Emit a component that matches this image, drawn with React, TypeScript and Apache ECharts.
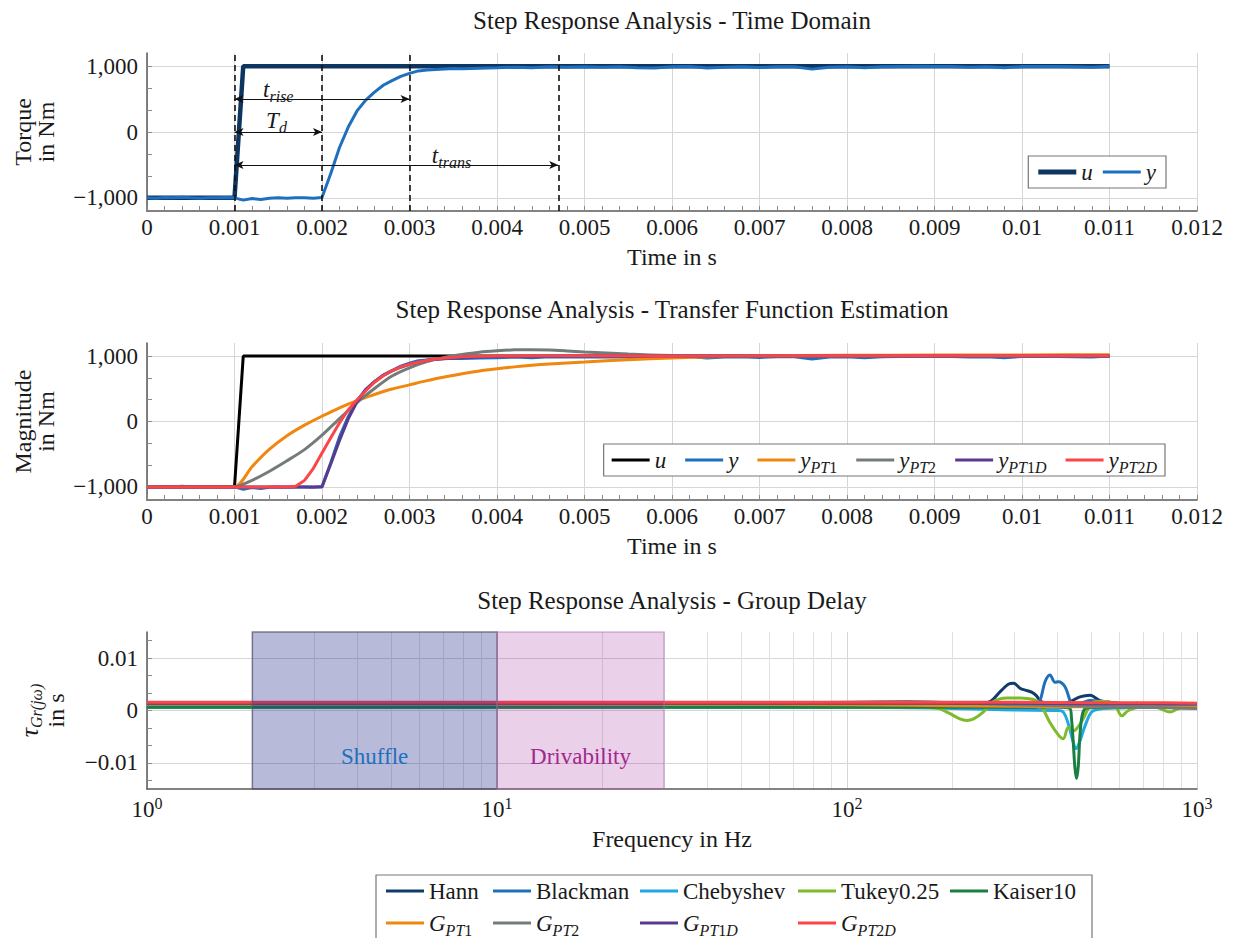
import React, { useEffect, useRef } from "react";
import * as echarts from "echarts";

const FONT = '"Liberation Serif", "DejaVu Serif", "Times New Roman", serif';
const TEXT = "#1a1a1a";

// ---------------- Time-domain data (charts 1 and 2) ----------------
const uTime = [0, 0.001, 0.0011, 0.011];
const uValues = [-1000, -1000, 1000, 1000];

const yTime = [
  0, 0.0001, 0.0002, 0.0003, 0.0004, 0.0005, 0.0006, 0.0007, 0.0008, 0.0009, 0.001,
  0.0011, 0.0012, 0.0013, 0.0014, 0.0015, 0.0016, 0.0017, 0.0018, 0.0019, 0.002,
  0.0021, 0.0022, 0.0023, 0.0024, 0.0025, 0.0026, 0.0027, 0.0028, 0.0029, 0.003,
  0.0031, 0.0032, 0.0033, 0.0034, 0.0035, 0.0036,
  0.0038, 0.004, 0.0042, 0.0044, 0.0046, 0.0048, 0.005, 0.0052, 0.0054, 0.0056,
  0.0058, 0.006, 0.0062, 0.0064, 0.0066, 0.0068, 0.007, 0.0072, 0.0074, 0.0076,
  0.0078, 0.008, 0.0082, 0.0084, 0.0086, 0.0088, 0.009, 0.0092, 0.0094, 0.0096,
  0.0098, 0.01, 0.0102, 0.0104, 0.0106, 0.0108, 0.011,
];
const yValues = [
  -1000, -1005, -995, -1000, -990, -1000, -1005, -1000, -1000, -995, -1000,
  -1035, -1010, -1025, -1005, -1000, -1005, -1000, -1000, -1005, -995,
  -630, -235, 75, 320, 485, 605, 710, 780, 845, 890,
  928, 940, 950, 958, 965, 962,
  970, 975, 985, 975, 990, 985, 990, 985, 990, 975,
  972, 990, 995, 972, 985, 990, 980, 990, 990, 955,
  985, 990, 975, 990, 995, 1000, 995, 995, 985, 990,
  975, 995, 995, 995, 990, 985, 1000,
];

const ptTime = [
  0, 0.001, 0.0012, 0.0014, 0.0016, 0.0018, 0.002, 0.0022, 0.0024, 0.0026, 0.0028,
  0.003, 0.0032, 0.0034, 0.0036, 0.0038, 0.004, 0.0042, 0.0044, 0.0046, 0.0048,
  0.005, 0.0055, 0.006, 0.0065, 0.007, 0.008, 0.009, 0.01, 0.011,
];
const yPT1Values = [
  -1000, -1000, -691, -424, -218, -56, 81, 210, 320, 412, 496,
  560, 625, 680, 730, 772, 805, 835, 860, 880, 895,
  908, 945, 972, 990, 1002, 1012, 1016, 1018, 1020,
];
const yPT2Values = [
  -1000, -1000, -900, -760, -600, -430, -210, 45, 290, 505, 695,
  820, 915, 980, 1025, 1060, 1080, 1095, 1098, 1092, 1078,
  1062, 1030, 1008, 995, 993, 998, 1000, 1000, 1000,
];
const pt1dTime = [
  0, 0.002, 0.0021, 0.0022, 0.0023, 0.0024, 0.0025, 0.0026, 0.0027, 0.0028, 0.0029,
  0.003, 0.0032, 0.0034, 0.0036, 0.0038, 0.004, 0.0045, 0.005, 0.011,
];
const yPT1DValues = [
  -1000, -1000, -650, -290, 40, 300, 490, 610, 705, 775, 830,
  875, 935, 963, 978, 988, 993, 998, 1000, 1000,
];
const pt2dTime = [
  0, 0.0016, 0.0017, 0.0018, 0.0019, 0.002, 0.0021, 0.0022, 0.0023, 0.0024, 0.0025,
  0.0026, 0.0027, 0.0028, 0.0029, 0.003, 0.0032, 0.0034, 0.0036, 0.0038, 0.004,
  0.0045, 0.005, 0.006, 0.011,
];
const yPT2DValues = [
  -1000, -1000, -990, -900, -720, -480, -250, -20, 180, 330, 470,
  600, 700, 775, 835, 875, 935, 970, 988, 997, 1002,
  1005, 1005, 1003, 1005,
];

const torqueRange = [-1200, 1200];
const torqueTickLabels = [-1000, 0, 1000];
const torqueMinorTicks = [-2000 / 3, -1000 / 3, 1000 / 3, 2000 / 3];

// annotations of chart 1
const markerTimes = [0.001, 0.002, 0.003, 0.0047];
const arrowStarts = [0.001, 0.001, 0.001];
const arrowEnds = [0.003, 0.002, 0.0047];
const arrowLevels = [500, 0, -500];
const annotationTexts = ["{i|t}{s|rise}", "{i|T}{s|d}", "{i|t}{s|trans}"];
const annotationTimes = [0.0015, 0.00148, 0.00348];
const annotationLevels = [650, 170, -355];

// ---------------- Group delay data (chart 3) ----------------
const hannFreq = [1, 50, 150, 200, 230, 256, 274, 289, 299, 313, 323, 337, 348, 358, 372, 400, 430, 463, 495, 528, 577, 630, 675, 720, 800, 900, 1000];
const hannDelay = [0.0007, 0.0007, 0.0008, 0.0009, 0.001, 0.0017, 0.0036, 0.005, 0.0052, 0.0042, 0.0039, 0.0035, 0.0028, 0.0017, 0.0015, 0.0013, 0.0016, 0.0026, 0.0029, 0.0019, 0.0015, 0.0012, 0.0014, 0.0011, 0.001, 0.0009, 0.0008];

const blackmanFreq = [1, 100, 200, 300, 341, 356, 368, 380, 393, 402, 420, 434, 443, 470, 495, 552, 600, 700, 800, 1000];
const blackmanDelay = [0.0007, 0.0007, 0.0008, 0.0005, 0.0003, 0.0019, 0.0055, 0.0068, 0.0054, 0.0055, 0.0045, 0.0019, 0.0013, 0.0015, 0.0019, 0.0016, 0.0014, 0.0011, 0.001, 0.0009];

const chebyshevFreq = [1, 100, 200, 300, 400, 415, 429, 443, 451, 463, 479, 500, 530, 600, 700, 1000];
const chebyshevDelay = [0.0006, 0.0006, 0.0004, 0.0001, 0.0, -0.0003, -0.0026, -0.0061, -0.0073, -0.0058, -0.0029, -0.0003, 0.0003, 0.0005, 0.0006, 0.0006];

const tukeyFreq = [1, 100, 170, 184, 197, 210, 220, 230, 245, 262, 286, 312, 341, 356, 380, 402, 415, 429, 443, 453, 473, 495, 517, 552, 583, 610, 637, 687, 760, 836, 900, 1000];
const tukeyDelay = [0.0007, 0.0007, 0.0006, 0.0003, -0.0006, -0.0016, -0.0019, -0.0016, -0.0003, 0.0017, 0.0024, 0.0024, 0.0021, 0.0013, -0.0023, -0.0047, -0.0054, -0.0032, -0.0039, -0.0035, -0.0016, 0.001, 0.0017, 0.0017, 0.001, -0.001, 0.0, 0.0006, 0.0006, -0.0003, 0.0005, 0.0005];

const kaiserFreq = [1, 100, 300, 400, 433, 438, 443, 448, 453, 458, 463, 471, 484, 550, 700, 1000];
const kaiserDelay = [0.0006, 0.0006, 0.0006, 0.0006, 0.0004, -0.0016, -0.006, -0.011, -0.013, -0.0106, -0.0048, -0.0006, 0.0005, 0.0006, 0.0006, 0.0006];

const modelFreq = [1, 10, 50, 100, 150, 200, 300, 500, 700, 1000];
const gPT1Delay = [0.0012, 0.0012, 0.0012, 0.0011, 0.001, 0.0009, 0.0008, 0.0007, 0.0007, 0.0006];
const gPT2Delay = [0.0013, 0.0013, 0.0014, 0.0016, 0.0017, 0.0015, 0.0011, 0.0008, 0.0006, 0.0004];
const gPT1DDelay = [0.0014, 0.0014, 0.0014, 0.0014, 0.0014, 0.0014, 0.0014, 0.0013, 0.0013, 0.0013];
const gPT2DDelay = [0.0016, 0.0016, 0.0016, 0.0016, 0.0016, 0.0016, 0.0016, 0.0015, 0.0015, 0.0014];

const regionNames = ["Shuffle", "Drivability"];
const regionStart = [2, 10];
const regionEnd = [10, 30];

const delayTickLabels = [-0.01, 0, 0.01];
const delayMinorTicks = [-0.04 / 3, -0.02 / 3, -0.01 / 3, 0.01 / 3, 0.02 / 3, 0.04 / 3];
const logMinorGridFreqs = [2, 3, 4, 5, 6, 7, 8, 9, 20, 30, 40, 50, 60, 70, 80, 90, 200, 300, 400, 500, 600, 700, 800, 900];

// ---------------- helpers ----------------
const zip = (xs: number[], ys: number[]) => xs.map((x, i) => [x, ys[i]]);

const fmtTime = (v: number) => String(parseFloat(v.toFixed(4)));
const fmtTorque = (v: number) =>
  v === 0 ? "0" : (v < 0 ? "\u2212" : "") + Math.abs(v).toLocaleString("en-US");
const fmtDelay = (v: number) =>
  Math.abs(v) < 1e-9 ? "0" : (v < 0 ? "\u2212" : "") + String(parseFloat(Math.abs(v).toFixed(4)));

const LINE_H = 30;
const rich = {
  i: { fontFamily: FONT, fontSize: 23, fontStyle: "italic", color: TEXT, lineHeight: LINE_H },
  ti: { fontFamily: FONT, fontSize: 26, fontStyle: "italic", color: TEXT, lineHeight: LINE_H },
  s: { fontFamily: FONT, fontSize: 16, fontStyle: "italic", color: TEXT, verticalAlign: "bottom", lineHeight: 13 },
  sn: { fontFamily: FONT, fontSize: 16, color: TEXT, verticalAlign: "bottom", lineHeight: 13 },
  sup: { fontFamily: FONT, fontSize: 16, color: TEXT, verticalAlign: "top", lineHeight: 14 },
};

const legendLabels: Record<string, string> = {
  u: "{i|u}",
  y: "{i|y}",
  u2: "{i|u}",
  y2: "{i|y}",
  yPT1: "{i|y}{s|PT}{sn|1}",
  yPT2: "{i|y}{s|PT}{sn|2}",
  yPT1D: "{i|y}{s|PT}{sn|1}{s|D}",
  yPT2D: "{i|y}{s|PT}{sn|2}{s|D}",
  Hann: "Hann",
  Blackman: "Blackman",
  Chebyshev: "Chebyshev",
  "Tukey0.25": "Tukey0.25",
  Kaiser10: "Kaiser10",
  GPT1: "{i|G}{s|PT}{sn|1}",
  GPT2: "{i|G}{s|PT}{sn|2}",
  GPT1D: "{i|G}{s|PT}{sn|1}{s|D}",
  GPT2D: "{i|G}{s|PT}{sn|2}{s|D}",
};

const COLORS = {
  uTop: "#0e355f",
  y: "#1f6fbf",
  u2: "#000000",
  pt1: "#f0870f",
  pt2: "#747c7b",
  pt1d: "#5a3a8e",
  pt2d: "#fc4549",
  hann: "#103c6b",
  blackman: "#1f6fba",
  chebyshev: "#22a7e6",
  tukey: "#7dbb2c",
  kaiser: "#1a7f43",
};

const ICON_THIN = "path://M0,0L38,0L38,3L0,3Z";
const ICON_THICK = "path://M0,0L38,0L38,5L0,5Z";

const axisLineStyle = { show: true, onZero: false, lineStyle: { color: "#5a5a5a", width: 1.5 } };
const splitLineStyle = { show: true, lineStyle: { color: "#d6d6d6", width: 1 } };
const tickLabelStyle = { fontFamily: FONT, fontSize: 23, color: TEXT };
const nameStyle = { fontFamily: FONT, fontSize: 24, color: TEXT, lineHeight: 23, rich };

const GRID_LEFT = 147;
const GRID_WIDTH = 1050;

function timeXAxis(gridIndex: number) {
  return {
    type: "value",
    gridIndex,
    position: "bottom",
    min: 0,
    max: 0.012,
    interval: 0.001,
    axisLine: axisLineStyle,
    axisTick: { show: true, inside: true, length: 5, lineStyle: { color: "#8a8a8a" } },
    minorTick: { show: true, splitNumber: 5, length: 5, lineStyle: { color: "#8a8a8a" } },
    splitLine: splitLineStyle,
    axisLabel: { ...tickLabelStyle, margin: 5, formatter: fmtTime },
    name: "Time in s",
    nameLocation: "middle",
    nameGap: 34,
    nameTextStyle: nameStyle,
  };
}

function torqueYAxes(gridIndex: number, name: string) {
  return [
    {
      type: "value",
      gridIndex,
      position: "left",
      min: torqueRange[0],
      max: torqueRange[1],
      axisLine: axisLineStyle,
      axisTick: { show: true, inside: true, length: 5, customValues: torqueTickLabels, lineStyle: { color: "#8a8a8a" } },
      axisLabel: { ...tickLabelStyle, margin: 9, customValues: torqueTickLabels, formatter: fmtTorque },
      splitLine: splitLineStyle,
      name,
      nameLocation: "middle",
      nameGap: 90,
      nameTextStyle: nameStyle,
    },
    {
      type: "value",
      gridIndex,
      position: "left",
      min: torqueRange[0],
      max: torqueRange[1],
      axisLine: { show: false },
      axisTick: { show: true, inside: true, length: 5, customValues: torqueMinorTicks, lineStyle: { color: "#8a8a8a" } },
      axisLabel: { show: false },
      splitLine: { show: false },
    },
  ];
}

function lineSeries(name: string, xIdx: number, yIdx: number, data: number[][], color: string, width: number, extra: any = {}) {
  return {
    name,
    type: "line",
    xAxisIndex: xIdx,
    yAxisIndex: yIdx,
    data,
    symbol: "none",
    lineStyle: { color, width },
    itemStyle: { color },
    emphasis: { disabled: true },
    ...extra,
  };
}

const legendBase = {
  selectedMode: false,
  itemWidth: 38,
  itemHeight: 14,
  itemGap: 10,
  textStyle: { fontFamily: FONT, fontSize: 23, color: TEXT, lineHeight: LINE_H, rich },
  formatter: (n: string) => legendLabels[n] ?? n,
};

const legendItems = (names: string[], thick: string[] = []) =>
  names.map((n) => ({ name: n, icon: thick.includes(n) ? ICON_THICK : ICON_THIN }));

export default function App() {
  const ref = useRef<HTMLDivElement>(null);

  useEffect(() => {
    if (!ref.current) return;
    const chart = echarts.init(ref.current, undefined, { renderer: "svg" });

    const dashedMarkers = {
      silent: true,
      symbol: ["none", "none"],
      label: { show: false },
      lineStyle: { type: [6, 4], color: "#111", width: 1.6 },
      data: markerTimes.map((t) => [
        { coord: [t, torqueRange[0]] },
        { coord: [t, torqueRange[1]] },
      ]),
    };
    const arrowMarkers = {
      silent: true,
      symbol: ["arrow", "arrow"],
      symbolSize: [6, 9],
      label: { show: false },
      lineStyle: { type: "solid", color: "#111", width: 1 },
      data: arrowStarts.map((s, i) => [
        { coord: [s, arrowLevels[i]] },
        { coord: [arrowEnds[i], arrowLevels[i]] },
      ]),
    };
    const annotationPoints = {
      silent: true,
      symbol: "circle",
      symbolSize: 1,
      itemStyle: { color: "rgba(0,0,0,0)" },
      label: { show: true, position: "inside", fontFamily: FONT, fontSize: 24, color: TEXT, rich },
      data: annotationTexts.map((txt, i) => ({
        coord: [annotationTimes[i], annotationLevels[i]],
        label: { formatter: txt },
      })),
    };

    const option: any = {
      animation: false,
      backgroundColor: "#ffffff",
      textStyle: { fontFamily: FONT },
      grid: [
        { left: GRID_LEFT, width: GRID_WIDTH, top: 53, height: 158 },
        { left: GRID_LEFT, width: GRID_WIDTH, top: 343, height: 157 },
        { left: GRID_LEFT, width: GRID_WIDTH, top: 632, height: 157 },
      ],
      xAxis: [
        timeXAxis(0),
        timeXAxis(1),
        {
          type: "log",
          logBase: 10,
          gridIndex: 2,
          position: "bottom",
          min: 1,
          max: 1000,
          axisLine: axisLineStyle,
          axisTick: { show: false },
          splitLine: splitLineStyle,
          axisLabel: {
            ...tickLabelStyle,
            margin: 6,
            lineHeight: 28,
            rich,
            formatter: (v: number) => `10{sup|${Math.round(Math.log10(v))}}`,
          },
          name: "Frequency in Hz",
          nameLocation: "middle",
          nameGap: 38,
          nameTextStyle: nameStyle,
        },
        {
          type: "value",
          gridIndex: 2,
          position: "bottom",
          min: 0,
          max: 3,
          axisLine: { show: false },
          axisTick: { show: false, customValues: logMinorGridFreqs.map((f) => Math.log10(f)) },
          axisLabel: { show: false },
          splitLine: { show: true, lineStyle: { color: "#e0e0e0", width: 1 } },
        },
      ],
      yAxis: [
        ...torqueYAxes(0, "Torque\nin Nm"),
        ...torqueYAxes(1, "Magnitude\nin Nm"),
        {
          type: "value",
          gridIndex: 2,
          position: "left",
          min: -0.015,
          max: 0.015,
          axisLine: axisLineStyle,
          axisTick: { show: true, inside: true, length: 5, customValues: delayTickLabels, lineStyle: { color: "#8a8a8a" } },
          axisLabel: { ...tickLabelStyle, margin: 9, customValues: delayTickLabels, formatter: fmtDelay },
          splitLine: splitLineStyle,
          name: "{ti|\u03C4}{s|Gr(j\u03C9)}\nin s",
          nameLocation: "middle",
          nameGap: 80,
          nameTextStyle: nameStyle,
        },
        {
          type: "value",
          gridIndex: 2,
          position: "left",
          min: -0.015,
          max: 0.015,
          axisLine: { show: false },
          axisTick: { show: true, inside: true, length: 5, customValues: delayMinorTicks, lineStyle: { color: "#8a8a8a" } },
          axisLabel: { show: false },
          splitLine: { show: false },
        },
      ],
      legend: [
        {
          ...legendBase,
          data: legendItems(["u", "y"], ["u"]),
          right: 68,
          top: 156,
          padding: [1, 10, 1, 10],
          borderColor: "#777",
          borderWidth: 1.2,
          backgroundColor: "#fff",
        },
        {
          ...legendBase,
          data: legendItems(["u2", "y2", "yPT1", "yPT2", "yPT1D", "yPT2D"]),
          right: 69,
          top: 444,
          itemGap: 19,
          padding: [1, 8, 1, 8],
          borderColor: "#777",
          borderWidth: 1.2,
          backgroundColor: "#fff",
        },
        { ...legendBase, orient: "vertical", left: 386, top: 876, height: 80, padding: 0, itemGap: 2, data: legendItems(["Hann", "GPT1"]) },
        { ...legendBase, orient: "vertical", left: 493, top: 876, height: 80, padding: 0, itemGap: 2, data: legendItems(["Blackman", "GPT2"]) },
        { ...legendBase, orient: "vertical", left: 640, top: 876, height: 80, padding: 0, itemGap: 2, data: legendItems(["Chebyshev", "GPT1D"]) },
        { ...legendBase, orient: "vertical", left: 798, top: 876, height: 80, padding: 0, itemGap: 2, data: legendItems(["Tukey0.25", "GPT2D"]) },
        { ...legendBase, orient: "vertical", left: 950, top: 876, height: 80, padding: 0, itemGap: 2, data: legendItems(["Kaiser10"]) },
      ],
      graphic: [
        {
          type: "text",
          x: 672,
          y: 20,
          style: { text: "Step Response Analysis - Time Domain", font: `25px ${FONT}`, fill: TEXT, align: "center", verticalAlign: "middle" },
        },
        {
          type: "text",
          x: 672,
          y: 309,
          style: { text: "Step Response Analysis - Transfer Function Estimation", font: `25px ${FONT}`, fill: TEXT, align: "center", verticalAlign: "middle" },
        },
        {
          type: "text",
          x: 672,
          y: 600,
          style: { text: "Step Response Analysis - Group Delay", font: `25px ${FONT}`, fill: TEXT, align: "center", verticalAlign: "middle" },
        },
        {
          type: "rect",
          shape: { x: 376, y: 875, width: 716, height: 80 },
          style: { fill: "none", stroke: "#777", lineWidth: 1.2 },
          z: -1,
        },
      ],
      series: [
        // chart 1
        lineSeries("u", 0, 0, zip(uTime, uValues), COLORS.uTop, 4.5, { markLine: dashedMarkers }),
        lineSeries("y", 0, 0, zip(yTime, yValues), COLORS.y, 3, { markLine: arrowMarkers, markPoint: annotationPoints }),
        // chart 2
        lineSeries("u2", 1, 2, zip(uTime, uValues), COLORS.u2, 3),
        lineSeries("y2", 1, 2, zip(yTime, yValues), COLORS.y, 3),
        lineSeries("yPT1", 1, 2, zip(ptTime, yPT1Values), COLORS.pt1, 3, { smooth: 0.25 }),
        lineSeries("yPT2", 1, 2, zip(ptTime, yPT2Values), COLORS.pt2, 3, { smooth: 0.25 }),
        lineSeries("yPT1D", 1, 2, zip(pt1dTime, yPT1DValues), COLORS.pt1d, 3),
        lineSeries("yPT2D", 1, 2, zip(pt2dTime, yPT2DValues), COLORS.pt2d, 3),
        // chart 3
        lineSeries("Hann", 2, 4, zip(hannFreq, hannDelay), COLORS.hann, 3, { smooth: 0.35 }),
        lineSeries("Blackman", 2, 4, zip(blackmanFreq, blackmanDelay), COLORS.blackman, 3, { smooth: 0.35 }),
        lineSeries("Chebyshev", 2, 4, zip(chebyshevFreq, chebyshevDelay), COLORS.chebyshev, 3, { smooth: 0.35 }),
        lineSeries("Tukey0.25", 2, 4, zip(tukeyFreq, tukeyDelay), COLORS.tukey, 3, { smooth: 0.35 }),
        lineSeries("Kaiser10", 2, 4, zip(kaiserFreq, kaiserDelay), COLORS.kaiser, 3, { smooth: 0.35 }),
        lineSeries("GPT1", 2, 4, zip(modelFreq, gPT1Delay), COLORS.pt1, 3, { smooth: 0.3 }),
        lineSeries("GPT2", 2, 4, zip(modelFreq, gPT2Delay), COLORS.pt2, 3, { smooth: 0.3 }),
        lineSeries("GPT1D", 2, 4, zip(modelFreq, gPT1DDelay), COLORS.pt1d, 3, { smooth: 0.3 }),
        lineSeries("GPT2D", 2, 4, zip(modelFreq, gPT2DDelay), COLORS.pt2d, 3, { smooth: 0.3 }),
        {
          name: "regions",
          type: "line",
          xAxisIndex: 2,
          yAxisIndex: 4,
          data: [],
          z: 10,
          markArea: {
            silent: true,
            z: 10,
            data: regionNames.map((nm, i) => [
              {
                name: nm,
                xAxis: regionStart[i],
                itemStyle:
                  i === 0
                    ? { color: "rgba(40,45,140,0.33)", borderColor: "rgba(90,90,110,0.75)", borderWidth: 1.5 }
                    : { color: "rgba(150,20,140,0.2)", borderColor: "rgba(170,120,170,0.5)", borderWidth: 1.5 },
                label: {
                  show: true,
                  position: "insideBottom",
                  distance: 22,
                  fontFamily: FONT,
                  fontSize: 23,
                  color: i === 0 ? "#1f6fbf" : "#a1288e",
                },
              },
              { xAxis: regionEnd[i] },
            ]),
          },
        },
      ],
    };

    chart.setOption(option);
    return () => chart.dispose();
  }, []);

  return (
    <div
      ref={ref}
      style={{ position: "fixed", left: 0, top: 0, width: 1234, height: 938, background: "#fff" }}
    />
  );
}
